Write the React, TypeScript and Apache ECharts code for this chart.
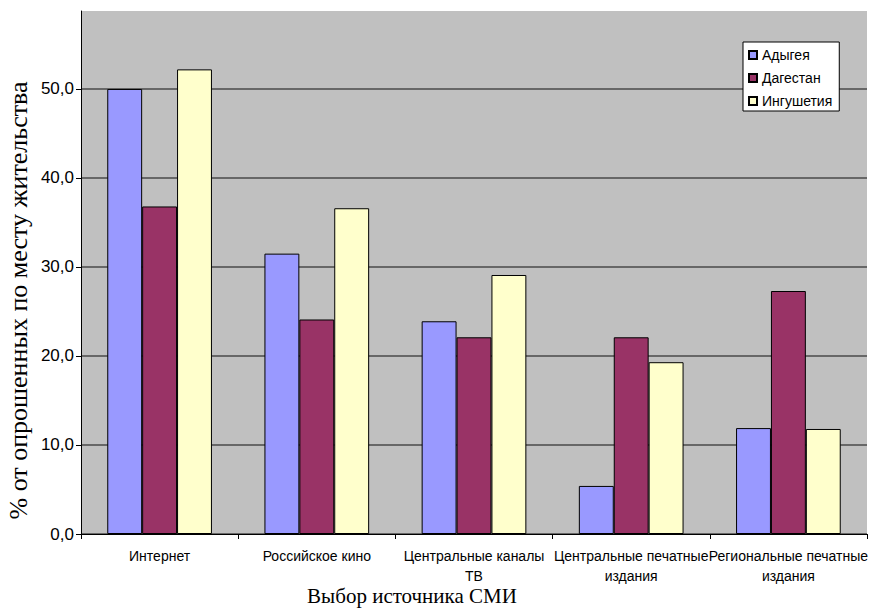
import React, { useEffect, useRef } from "react";
import * as echarts from "echarts";

const categories = [
  "Интернет",
  "Российское кино",
  "Центральные каналы\nТВ",
  "Центральные печатные\nиздания",
  "Региональные печатные\nиздания",
];
const seriesNames = ["Адыгея", "Дагестан", "Ингушетия"];
const adygea = [50.0, 31.5, 23.9, 5.4, 11.9];
const dagestan = [36.8, 24.1, 22.1, 22.1, 27.3];
const ingushetia = [52.2, 36.6, 29.1, 19.3, 11.8];
const yTicks = [0, 10, 20, 30, 40, 50];
const colors = ["#9999FF", "#993366", "#FFFFCC"];

const SANS = "'Liberation Sans', Arial, sans-serif";
const SERIF = "'Liberation Serif', 'Times New Roman', serif";

export default function App() {
  const ref = useRef<HTMLDivElement>(null);
  useEffect(() => {
    if (!ref.current) return;
    const chart = echarts.init(ref.current, undefined, { renderer: "svg" });
    const values = [adygea, dagestan, ingushetia];
    chart.setOption({
      animation: false,
      backgroundColor: "#ffffff",
      grid: {
        left: 81,
        right: 14,
        top: 11,
        bottom: 79,
        containLabel: false,
        outerBoundsMode: "none",
        show: true,
        backgroundColor: "#C0C0C0",
        borderWidth: 0,
      },
      legend: {
        orient: "vertical",
        left: 743,
        top: 42,
        backgroundColor: "#ffffff",
        borderColor: "#000000",
        borderWidth: 1,
        borderRadius: 0,
        padding: [6, 7, 3, 5],
        itemGap: 9,
        itemWidth: 8,
        itemHeight: 8,
        icon: "rect",
        textStyle: { fontFamily: SANS, fontSize: 14, color: "#000" },
        data: seriesNames,
      },
      xAxis: {
        type: "category",
        data: categories,
        axisLine: { show: true, lineStyle: { color: "#000", width: 1 } },
        axisTick: { show: true, length: 5, lineStyle: { color: "#000" } },
        axisLabel: {
          interval: 0,
          fontFamily: SANS,
          fontSize: 14,
          lineHeight: 20,
          color: "#000",
          margin: 12,
        },
        name: "Выбор источника СМИ",
        nameLocation: "middle",
        nameGap: 51,
        nameMoveOverlap: false,
        nameTextStyle: {
          fontFamily: SERIF,
          fontSize: 21,
          color: "#000",
          padding: [0, 124, 0, 0],
        },
      },
      yAxis: {
        type: "value",
        min: 0,
        max: 58.76,
        interval: 10,
        axisLine: { show: true, lineStyle: { color: "#000", width: 1 } },
        axisTick: {
          show: true,
          length: 5,
          lineStyle: { color: "#000" },
          customValues: yTicks,
        },
        axisLabel: {
          customValues: yTicks,
          formatter: (v: number) => v.toFixed(1).replace(".", ","),
          fontFamily: SANS,
          fontSize: 17,
          color: "#000",
          margin: 7,
        },
        splitLine: {
          show: true,
          lineStyle: { color: "#4a4a4a", width: 1.5 },
        },
        name: "% от опрошенных по месту жительства",
        nameLocation: "middle",
        nameGap: 50,
        nameMoveOverlap: false,
        nameTextStyle: {
          fontFamily: SERIF,
          fontSize: 26,
          color: "#000",
          padding: [0, 56, 0, 0],
        },
      },
      series: seriesNames.map((name, i) => ({
        name,
        type: "bar",
        data: values[i],
        barWidth: "22.2%",
        barGap: "0%",
        itemStyle: { color: colors[i], borderColor: "#000", borderWidth: 1 },
      })),
    });
    return () => chart.dispose();
  }, []);
  return (
    <div
      ref={ref}
      style={{ position: "fixed", left: 0, top: 0, width: 881, height: 613 }}
    />
  );
}
